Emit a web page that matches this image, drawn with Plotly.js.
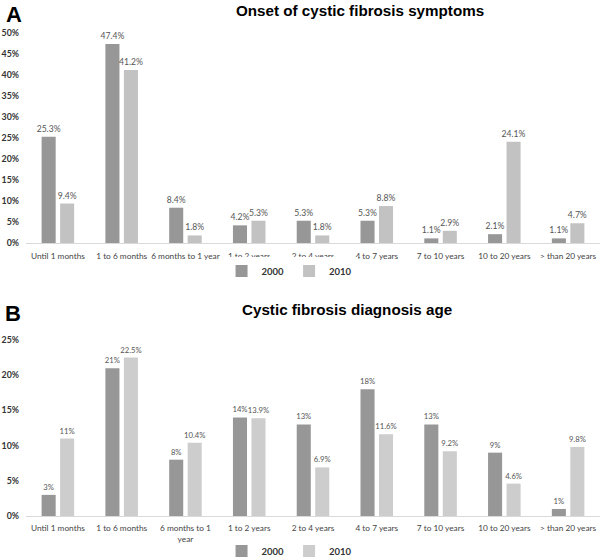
<!DOCTYPE html>
<html><head><meta charset="utf-8">
<script src="https://cdn.plot.ly/plotly-3.0.1.min.js"></script>
<style>html,body{margin:0;padding:0;background:#fff}#chart{width:600px;height:559px}</style>
</head><body><div id="chart"></div>
<script>
const categoriesA = ["Until 1 months","1 to 6 months","6 months to 1 year","1 to 2 years","2 to 4 years","4 to 7 years","7 to 10 years","10 to 20 years","> than 20 years"];
const categoriesB = ["Until 1 months","1 to 6 months","6 months to 1<br>year","1 to 2 years","2 to 4 years","4 to 7 years","7 to 10 years","10 to 20 years","> than 20 years"];
const onset2000 = [25.3, 47.4, 8.4, 4.2, 5.3, 5.3, 1.1, 2.1, 1.1];
const onset2010 = [9.4, 41.2, 1.8, 5.3, 1.8, 8.8, 2.9, 24.1, 4.7];
const diag2000 = [3, 21, 8, 14, 13, 18, 13, 9, 1];
const diag2010 = [11, 22.5, 10.4, 13.9, 6.9, 11.6, 9.2, 4.6, 9.8];
const yTicksA = [0,5,10,15,20,25,30,35,40,45,50];
const yTicksB = [0,5,10,15,20,25];

const c2000 = '#979797', c2010A = '#c2c2c2', c2010B = '#cdcdcd';
const fam = 'Lato, "Open Sans", sans-serif';
function bar(x, y, name, color, xa, ya, leg, fs){
  return {type:'bar', x:x, y:y, name:name, marker:{color:color}, xaxis:xa, yaxis:ya, legend:leg,
    text:y.map(v=>v+'%'), textposition:'outside', constraintext:'none',
    textfont:{family:fam, size:fs, color:'#555'}, cliponaxis:false, hoverinfo:'skip'};
}
const data = [
  bar(categoriesA, onset2000, '2000', c2000, 'x', 'y', 'legend', 8.6),
  bar(categoriesA, onset2010, '2010', c2010A, 'x', 'y', 'legend', 8.6),
  bar(categoriesB, diag2000, '2000', c2000, 'x2', 'y2', 'legend2', 7.7),
  bar(categoriesB, diag2010, '2010', c2010B, 'x2', 'y2', 'legend2', 7.7)
];
const tickFont = {family:fam, size:8.3, color:'#444'};
const yFont = {family:fam, size:8.8, color:'#333', weight:'bold'};
const legFont = {family:fam, size:9.5, color:'#333', weight:'bold'};
const titleFont = {family:'Liberation Sans, Arial, sans-serif', size:15.2, color:'#000', weight:'bold'};
const letterFont = {family:'Liberation Sans, Arial, sans-serif', size:22, color:'#000', weight:'bold'};
const xd = [26/600, 1];
const layout = {
  width:600, height:559, margin:{l:0,r:0,t:0,b:0,autoexpand:false}, paper_bgcolor:'#fff', plot_bgcolor:'#fff',
  barmode:'group', bargap:0.42, bargroupgap:0.24,
  xaxis:{domain:xd, anchor:'y', type:'category', showline:true, linecolor:'#d9d9d9', linewidth:1, ticks:'', tickfont:tickFont, ticklabelstandoff:5, automargin:false, showgrid:false, zeroline:false, tickangle:0},
  yaxis:{domain:[1-243/559, 1-33/559], anchor:'x', range:[0,50], tickvals:yTicksA, ticktext:yTicksA.map(v=>v+'%'), tickfont:yFont, ticklabelstandoff:6, showgrid:false, zeroline:false, showline:false, automargin:false},
  xaxis2:{domain:xd, anchor:'y2', type:'category', showline:true, linecolor:'#d9d9d9', linewidth:1, ticks:'', tickfont:tickFont, ticklabelstandoff:4, automargin:false, showgrid:false, zeroline:false, tickangle:0},
  yaxis2:{domain:[1-516/559, 1-340/559], anchor:'x2', range:[0,25], tickvals:yTicksB, ticktext:yTicksB.map(v=>v+'%'), tickfont:yFont, ticklabelstandoff:6, showgrid:false, zeroline:false, showline:false, automargin:false},
  legend:{orientation:'h', x:(303-26)/574, xanchor:'center', y:1-271/559, yanchor:'middle', font:legFont, itemwidth:30},
  legend2:{orientation:'h', x:(303-26)/574, xanchor:'center', y:1-551/559, yanchor:'middle', font:legFont, itemwidth:30},
  annotations:[
    {text:'A', xref:'paper', yref:'paper', x:4/600, y:1-14/559, xanchor:'left', yanchor:'middle', showarrow:false, font:letterFont},
    {text:'Onset of cystic fibrosis symptoms', xref:'paper', yref:'paper', x:360/600, y:1-10/559, xanchor:'center', yanchor:'middle', showarrow:false, font:titleFont},
    {text:'B', xref:'paper', yref:'paper', x:3/600, y:1-313/559, xanchor:'left', yanchor:'middle', showarrow:false, font:letterFont},
    {text:'Cystic fibrosis diagnosis age', xref:'paper', yref:'paper', x:347/600, y:1-309/559, xanchor:'center', yanchor:'middle', showarrow:false, font:titleFont}
  ]
};
Plotly.newPlot('chart', data, layout, {staticPlot:true, displayModeBar:false});
</script></body></html>
